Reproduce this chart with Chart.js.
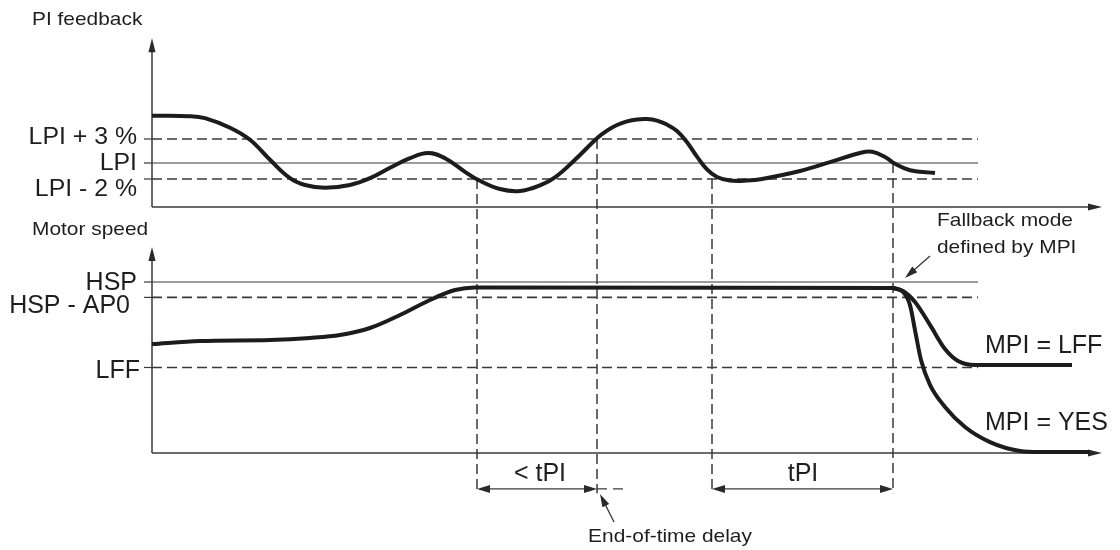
<!DOCTYPE html>
<html>
<head>
<meta charset="utf-8">
<script src="https://cdn.jsdelivr.net/npm/chart.js@4/dist/chart.umd.min.js"></script>
<style>
  html, body { margin: 0; padding: 0; background: #ffffff; }
  #wrap { width: 1120px; height: 550px; }
</style>
</head>
<body>
<div id="wrap"><canvas id="c" width="1120" height="550"></canvas></div>
<script>
// ---------- DATA (time units; PI feedback in % around LPI; motor speed in % of HSP) ----------
const piTime  = [0, 3.8, 5.3, 7.8, 9.8, 11.8, 13.8, 15.3, 17.3, 19.8, 21.8, 23.8, 25.8, 27.6, 29.3, 31.3, 32.6, 34.8, 36.8, 38.8, 40.3, 42.3, 44.5, 45.5, 46.5, 47.5, 48.5, 49.5, 50.5, 51.5, 52.5, 53.5, 54.5, 55.5, 56.5, 57.8, 59.5, 61.0, 64.8, 67.8, 70.8, 72.0, 73.3, 74.3, 75.8, 78.3];
const piValue = [5.9, 5.85, 5.6, 4.4, 2.9, 0.4, -1.9, -2.75, -3.1, -2.75, -1.9, -0.6, 0.6, 1.25, 0.6, -1.1, -2.1, -3.25, -3.5, -2.8, -1.8, 0.4, 3.1, 4.05, 4.75, 5.2, 5.45, 5.5, 5.3, 4.8, 4.0, 2.6, 0.8, -0.8, -1.75, -2.2, -2.2, -2.0, -1.0, 0.1, 1.25, 1.4, 0.75, -0.1, -0.9, -1.25];

const speedTime  = [0, 4.8, 11.8, 15.8, 18.8, 21.8, 24.8, 27.8, 30.3, 32.3, 74.1];
const speedValue = [63.7, 65.5, 66.1, 67.3, 69.0, 73.1, 80.7, 89.5, 95.3, 96.8, 96.5];

const lffTime  = [74.1, 75.1, 76.3, 77.8, 79.3, 80.6, 82.3, 92.0];
const lffValue = [96.5, 94.7, 88.3, 74.9, 60.8, 53.8, 51.5, 51.5];

const yesTime  = [74.1, 75.1, 75.8, 76.3, 76.9, 77.8, 79.3, 81.3, 83.8, 86.8, 88.8, 93.8];
const yesValue = [96.5, 94.2, 86.5, 71.9, 54.4, 39.8, 26.9, 15.2, 6.4, 1.2, 0.6, 0.6];

const piLevelLabels    = ['LPI + 3 %', 'LPI', 'LPI - 2 %'];
const piLevelValues    = [3, 0, -2];
const speedLevelLabels = ['HSP', 'HSP - AP0', 'LFF'];
const speedLevelValues = [100, 91, 50];

const markerTimes       = [32.5, 44.5, 56.0, 74.1];   // instants where PI feedback crosses a level
const markerPiLevels    = [-2, 3, -2, 0];

// ---------- helpers ----------
const pts = (xs, ys) => xs.map((x, i) => ({ x, y: ys[i] }));
const INK = '#1c1c1c';
const LINE = '#3a3a3a';
const FONT = '"Liberation Sans", Arial, Helvetica, sans-serif';

function text(ctx, str, x, y, size, align, sx) {
  ctx.save();
  ctx.font = size + 'px ' + FONT;
  ctx.fillStyle = '#1e1e1e';
  ctx.textAlign = align;
  ctx.textBaseline = 'alphabetic';
  ctx.translate(x, y);
  ctx.scale(sx || 1, 1);
  ctx.fillText(str, 0, 0);
  ctx.restore();
}
function head(ctx, tx, ty, fx, fy, len, hw) {
  const a = Math.atan2(ty - fy, tx - fx);
  ctx.save();
  ctx.fillStyle = '#2a2a2a';
  ctx.beginPath();
  ctx.moveTo(tx, ty);
  ctx.lineTo(tx - len * Math.cos(a) + hw * Math.sin(a), ty - len * Math.sin(a) - hw * Math.cos(a));
  ctx.lineTo(tx - len * Math.cos(a) - hw * Math.sin(a), ty - len * Math.sin(a) + hw * Math.cos(a));
  ctx.closePath();
  ctx.fill();
  ctx.restore();
}
function seg(ctx, x1, y1, x2, y2, w, dash, color) {
  ctx.save();
  ctx.strokeStyle = color || LINE;
  ctx.lineWidth = w;
  ctx.setLineDash(dash || []);
  ctx.beginPath();
  ctx.moveTo(x1, y1);
  ctx.lineTo(x2, y2);
  ctx.stroke();
  ctx.restore();
}

const decor = {
  id: 'decor',
  beforeDatasetsDraw(chart) {
    const ctx = chart.ctx;
    const X = chart.scales.x, P = chart.scales.yPI, M = chart.scales.yMS;
    const x0 = X.getPixelForValue(0);
    const xTick = X.getPixelForValue(-0.8);
    const xEnd = X.getPixelForValue(82.6);
    const xTip = X.getPixelForValue(95.0);
    const DASH = [10, 5];

    piLevelValues.forEach((v) => {
      const y = P.getPixelForValue(v);
      seg(ctx, xTick, y, x0, y, 1.2);
      seg(ctx, x0, y, xEnd, y, v === 0 ? 1.1 : 1.6, v === 0 ? [] : DASH);
    });
    speedLevelValues.forEach((v, i) => {
      const y = M.getPixelForValue(v);
      seg(ctx, xTick, y, x0, y, 1.2);
      seg(ctx, x0, y, xEnd, y, i === 0 ? 1.1 : 1.6, i === 0 ? [] : DASH);
    });

    const yBottom = M.getPixelForValue(-23.5);
    markerTimes.forEach((t, i) => {
      const x = X.getPixelForValue(t);
      seg(ctx, x, P.getPixelForValue(markerPiLevels[i]), x, yBottom, 1.5, [10, 5]);
    });

    const pBase = P.getPixelForValue(-5.5), pTop = P.getPixelForValue(15.6);
    seg(ctx, x0, pBase, x0, pTop + 10, 1.5);
    head(ctx, x0, pTop, x0, pTop + 20, 14, 3.6);
    seg(ctx, x0, pBase, xTip - 10, pBase, 1.3);
    head(ctx, xTip, pBase, xTip - 20, pBase, 14, 3.6);
    const mBase = M.getPixelForValue(0), mTop = M.getPixelForValue(120.5);
    seg(ctx, x0, mBase, x0, mTop + 10, 1.5);
    head(ctx, x0, mTop, x0, mTop + 20, 14, 3.6);
    seg(ctx, x0, mBase, xTip - 10, mBase, 1.3);
    head(ctx, xTip, mBase, xTip - 20, mBase, 14, 3.6);

    const yA = M.getPixelForValue(-21);
    const a1 = X.getPixelForValue(markerTimes[0]), a2 = X.getPixelForValue(markerTimes[1]);
    const b1 = X.getPixelForValue(markerTimes[2]), b2 = X.getPixelForValue(markerTimes[3]);
    seg(ctx, a1 + 8, yA, a2 - 8, yA, 1.3);
    head(ctx, a1, yA, a2, yA, 13, 4);
    head(ctx, a2, yA, a1, yA, 13, 4);
    seg(ctx, a2, yA, X.getPixelForValue(47.6), yA, 1.2, [10, 6]);
    seg(ctx, b1 + 8, yA, b2 - 8, yA, 1.3);
    head(ctx, b1, yA, b2, yA, 13, 4);
    head(ctx, b2, yA, b1, yA, 13, 4);
  },
  afterDatasetsDraw(chart) {
    const ctx = chart.ctx;
    const X = chart.scales.x, P = chart.scales.yPI, M = chart.scales.yMS;
    const xLab = X.getPixelForValue(-1.5);
    const xLab2 = X.getPixelForValue(-1.2);

    text(ctx, 'PI feedback', X.getPixelForValue(-12), P.getPixelForValue(17.25), 19, 'left', 1.1);
    text(ctx, 'Motor speed', X.getPixelForValue(-12), M.getPixelForValue(127.5), 19, 'left', 1.1);

    const piOff = [4.5, 6.5, 17];
    piLevelLabels.forEach((s, i) => {
      text(ctx, s, xLab, P.getPixelForValue(piLevelValues[i]) + piOff[i], 23, 'right', 1.08);
    });
    const msOff = [8, 15.5, 10.5];
    const msX = [xLab, X.getPixelForValue(-2.2), xLab2];
    speedLevelLabels.forEach((s, i) => {
      text(ctx, s, msX[i], M.getPixelForValue(speedLevelValues[i]) + msOff[i], 25, 'right', 1);
    });

    text(ctx, '< tPI', X.getPixelForValue(38.8), M.getPixelForValue(-16.4), 25, 'center', 1);
    text(ctx, 'tPI', X.getPixelForValue(65.1), M.getPixelForValue(-16.4), 25, 'center', 1);

    text(ctx, 'End-of-time delay', X.getPixelForValue(51.8), M.getPixelForValue(-52), 19, 'center', 1.1);
    const e1x = X.getPixelForValue(46.2), e1y = M.getPixelForValue(-40.4);
    const e2x = X.getPixelForValue(44.8), e2y = M.getPixelForValue(-24);
    seg(ctx, e1x, e1y, e2x + (e1x - e2x) * 0.35, e2y + (e1y - e2y) * 0.35, 1.3);
    head(ctx, e2x, e2y, e1x, e1y, 13, 3.8);

    text(ctx, 'Fallback mode', X.getPixelForValue(78.5), M.getPixelForValue(132.7), 19, 'left', 1.1);
    text(ctx, 'defined by MPI', X.getPixelForValue(78.5), M.getPixelForValue(117), 19, 'left', 1.1);
    const f1x = X.getPixelForValue(77.8), f1y = M.getPixelForValue(115.2);
    const f2x = X.getPixelForValue(75.3), f2y = M.getPixelForValue(102.3);
    seg(ctx, f1x, f1y, f2x + (f1x - f2x) * 0.35, f2y + (f1y - f2y) * 0.35, 1.3);
    head(ctx, f2x, f2y, f1x, f1y, 13, 3.8);

    text(ctx, 'MPI = LFF', X.getPixelForValue(83.3), M.getPixelForValue(58.5), 25, 'left', 1);
    text(ctx, 'MPI = YES', X.getPixelForValue(83.3), M.getPixelForValue(13.5), 25, 'left', 1);
  }
};

const curve = (label, xs, ys, axis, mono) => ({
  label,
  data: pts(xs, ys),
  yAxisID: axis,
  showLine: true,
  borderColor: INK,
  borderWidth: 4,
  pointRadius: 0,
  fill: false,
  tension: 0.4,
  cubicInterpolationMode: mono ? 'monotone' : 'default',
  borderCapStyle: 'butt',
  borderJoinStyle: 'round'
});

new Chart(document.getElementById('c'), {
  type: 'scatter',
  data: {
    datasets: [
      curve('PI feedback', piTime, piValue, 'yPI', false),
      curve('Motor speed', speedTime, speedValue, 'yMS', true),
      curve('MPI = LFF', lffTime, lffValue, 'yMS', true),
      curve('MPI = YES', yesTime, yesValue, 'yMS', true)
    ]
  },
  options: {
    responsive: false,
    animation: false,
    devicePixelRatio: 1,
    layout: { padding: 0 },
    plugins: { legend: { display: false }, tooltip: { enabled: false } },
    scales: {
      x:   { type: 'linear', min: -15.2, max: 96.8, display: false },
      yPI: { type: 'linear', min: -48.375, max: 20.375, display: false },
      yMS: { type: 'linear', min: -56.725, max: 264.912, display: false }
    }
  },
  plugins: [decor]
});
</script>
</body>
</html>
